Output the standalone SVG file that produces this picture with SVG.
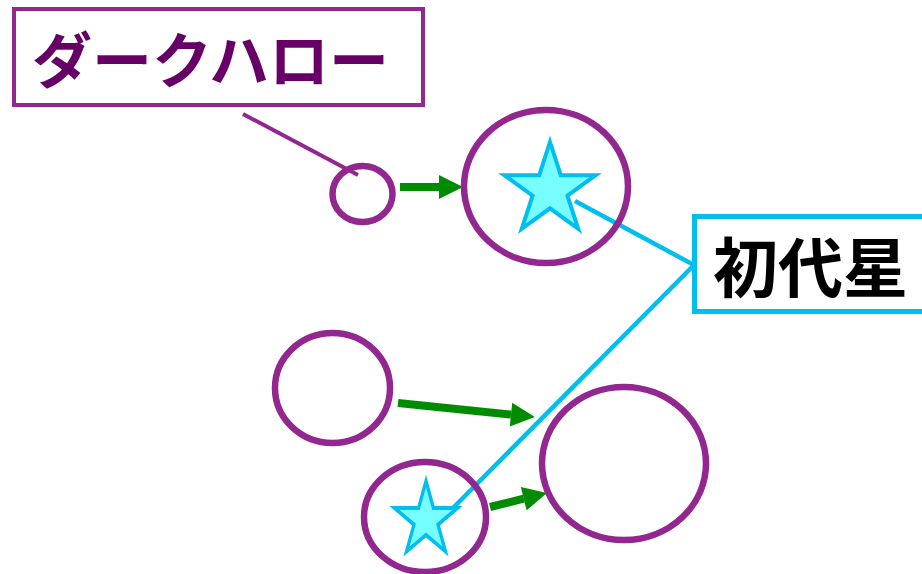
<svg xmlns="http://www.w3.org/2000/svg" width="922" height="574" viewBox="0 0 922 574">
<defs>
<style>
.halo{fill:none;stroke:#92278f;stroke-width:6.5}
.star{fill:#77ffff;stroke:#00bfef;stroke-width:4;stroke-linejoin:miter}
.arrow{stroke:#008c00;stroke-width:8;fill:none}
.lead-p{stroke:#92278f;stroke-width:4;fill:none}
.lead-c{stroke:#00bfef;stroke-width:4.5;fill:none}
.jp{font-family:"Noto Sans CJK JP","Noto Sans CJK SC",sans-serif;font-weight:bold}
</style>
<marker id="ah" markerUnits="strokeWidth" markerWidth="3" markerHeight="3" refX="0" refY="1.5" orient="auto" overflow="visible">
<path d="M0,0 L3,1.5 L0,3 Z" fill="#008c00"/>
</marker>
<path id="starShape" d="M0,-48 L10.76,-14.81 L45.65,-14.83 L17.4,5.65 L28.21,38.83 L0,18.3 L-28.21,38.83 L-17.4,5.65 L-45.65,-14.83 L-10.76,-14.81 Z"/>
</defs>
<rect width="922" height="574" fill="#ffffff"/>

<g id="connectors">
<line class="lead-p" x1="243" y1="114" x2="358" y2="175"/>
<polyline class="lead-c" points="575,201 694,265 453,508"/>
<line class="arrow" x1="400" y1="187" x2="439" y2="187" marker-end="url(#ah)"/>
<line class="arrow" x1="398" y1="403" x2="511" y2="414.6" marker-end="url(#ah)"/>
<line class="arrow" x1="490" y1="507" x2="523.7" y2="498.7" marker-end="url(#ah)"/>
</g>

<g id="halo-small">
<ellipse class="halo" cx="362.5" cy="194" rx="30" ry="28"/>
</g>
<g id="halo-top">
<ellipse class="halo" cx="546" cy="186.5" rx="82" ry="76.5"/>
<use href="#starShape" class="star" transform="translate(550,190)"/>
</g>
<g id="halo-mid">
<ellipse class="halo" cx="332.5" cy="388" rx="57.5" ry="55"/>
</g>
<g id="halo-bottom-right">
<ellipse class="halo" cx="624" cy="463.5" rx="82" ry="76.5"/>
</g>
<g id="halo-bottom">
<ellipse class="halo" cx="425" cy="517" rx="61" ry="55"/>
<use href="#starShape" class="star" vector-effect="non-scaling-stroke" transform="translate(426,520) scale(0.69,0.81)" style="stroke-width:4.8"/>
</g>

<g id="label-dark-halo">
<rect x="14" y="9" width="409" height="96" fill="#ffffff" stroke="#92278f" stroke-width="4"/>
<text class="jp" x="32" y="83" font-size="60" fill="#660066">ダークハロー</text>
</g>
<g id="label-first-stars">
<rect x="694.5" y="216.5" width="240" height="95" fill="#ffffff" stroke="#00bfef" stroke-width="5"/>
<text class="jp" x="713" y="292" font-size="65" fill="#000000">初代星</text>
</g>
</svg>
